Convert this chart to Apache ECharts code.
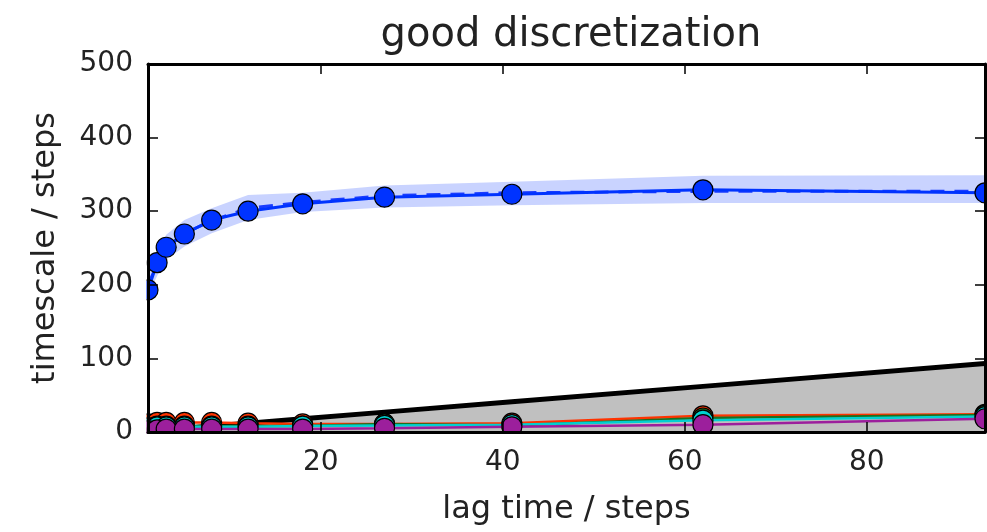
<!DOCTYPE html>
<html>
<head>
<meta charset="utf-8">
<script src="https://cdn.jsdelivr.net/npm/echarts@6/dist/echarts.min.js"></script>
<style>
  html, body { margin: 0; padding: 0; background: #fff; }
  #chart { width: 987px; height: 532px; }
</style>
</head>
<body>
<div id="chart"></div>
<script>
// lag times and implied timescales
var lags = [1, 2, 3, 5, 8, 12, 18, 27, 41, 62, 93];
var ts1 = [193, 230, 251, 269, 288, 300, 310, 319, 323, 329, 325];
var ts1Mean = [200, 228, 250, 270, 287, 304, 312, 321, 325, 327, 327];
var ts1Lower = [185, 212, 234, 252, 270, 288, 299, 305, 308, 311, 311];
var ts1Upper = [215, 243, 268, 288, 304, 322, 325, 335, 340, 348, 349];
var ts2 = [11, 13, 13, 13, 13, 12, 11, 11, 12, 22, 24];
var ts3 = [6, 8, 8, 8, 8, 8, 8, 11, 9, 19, 23];
var ts4 = [5, 7, 7, 7, 7, 7, 8, 9, 10, 16, 21];
var ts5 = [2, 3, 4, 4, 4, 4, 4, 5, 7, 10, 18];
var yTicks = [0, 100, 200, 300, 400, 500];

var FONT = "DejaVu Sans";

function pairs(ys) {
  return lags.map(function (x, i) { return [x, ys[i]]; });
}

function bandItem(params, api) {
  var pts = [];
  for (var i = 0; i < lags.length; i++) pts.push(api.coord([lags[i], ts1Upper[i]]));
  for (var j = lags.length - 1; j >= 0; j--) pts.push(api.coord([lags[j], ts1Lower[j]]));
  return {
    type: "polygon",
    shape: { points: pts },
    style: { fill: "rgba(40,80,255,0.25)" }
  };
}

function proc(name, ys, color, z, width) {
  return {
    name: name,
    type: "line",
    data: pairs(ys),
    symbol: "circle",
    symbolSize: 20,
    z: z,
    lineStyle: { color: color, width: width },
    itemStyle: { color: color, borderColor: "#000", borderWidth: 1.2 }
  };
}

var chart = echarts.init(document.getElementById("chart"), null, { renderer: "canvas" });

var spine = { show: true, onZero: false, lineStyle: { color: "#000", width: 3 } };
var tick = { show: true, inside: true, length: 10, lineStyle: { color: "#000", width: 1.5 } };

// grid frame: left 148, right 985, top 64, bottom 432
var option = {
  backgroundColor: "#fff",
  animation: false,
  title: {
    text: "good discretization",
    left: 566,
    top: 11,
    textAlign: "center",
    textStyle: { fontFamily: FONT, fontSize: 40, fontWeight: "normal", color: "#222" }
  },
  grid: { left: 148, right: 2, top: 64, bottom: 100, outerBoundsMode: "none", containLabel: false },
  // white masks so markers are cut at the frame like the original
  graphic: [
    { type: "rect", z: 40, silent: true, shape: { x: 0, y: 0, width: 146.5, height: 532 }, style: { fill: "#fff" } },
    { type: "rect", z: 40, silent: true, shape: { x: 0, y: 433.5, width: 987, height: 100 }, style: { fill: "#fff" } }
  ],
  xAxis: [
    {
      type: "value",
      min: 1,
      max: 93,
      splitNumber: 5,
      position: "bottom",
      z: 50,
      axisLine: spine,
      axisTick: tick,
      splitLine: { show: false },
      axisLabel: {
        showMinLabel: false,
        showMaxLabel: false,
        margin: 17,
        color: "#222",
        fontFamily: FONT,
        fontSize: 28
      },
      name: "lag time / steps",
      nameLocation: "middle",
      nameGap: 62,
      nameTextStyle: { fontFamily: FONT, fontSize: 32, color: "#222" }
    },
    {
      type: "value",
      min: 1,
      max: 93,
      splitNumber: 5,
      position: "top",
      z: 50,
      axisLine: spine,
      axisTick: tick,
      splitLine: { show: false },
      axisLabel: { show: false }
    }
  ],
  yAxis: [
    {
      type: "value",
      min: yTicks[0],
      max: yTicks[yTicks.length - 1],
      interval: 100,
      position: "left",
      z: 50,
      axisLine: spine,
      axisTick: tick,
      splitLine: { show: false },
      axisLabel: { margin: 15, color: "#222", fontFamily: FONT, fontSize: 28 },
      name: "timescale / steps",
      nameLocation: "middle",
      nameGap: 86,
      nameTextStyle: { fontFamily: FONT, fontSize: 32, color: "#222" }
    },
    {
      type: "value",
      min: yTicks[0],
      max: yTicks[yTicks.length - 1],
      interval: 100,
      position: "right",
      z: 50,
      axisLine: spine,
      axisTick: tick,
      splitLine: { show: false },
      axisLabel: { show: false }
    }
  ],
  series: [
    {
      name: "lag",
      type: "line",
      data: pairs(lags),
      symbol: "none",
      z: 1,
      lineStyle: { color: "#000", width: 5 },
      areaStyle: { color: "#c0c0c0", opacity: 1 }
    },
    {
      name: "band",
      type: "custom",
      renderItem: bandItem,
      data: [0],
      z: 2,
      silent: true
    },
    {
      name: "mean 1",
      type: "line",
      data: pairs(ts1Mean),
      symbol: "none",
      z: 3,
      lineStyle: { color: "#1a3cff", width: 3, type: [14, 10] }
    },
    proc("process 1", ts1, "#0033ff", 4, 3),
    proc("process 2", ts2, "#ff3300", 5, 2.5),
    proc("process 3", ts3, "#1e6e1e", 6, 2.5),
    proc("process 4", ts4, "#00d0d0", 7, 2.5),
    proc("process 5", ts5, "#9c1f9c", 8, 2.5)
  ]
};

chart.setOption(option);
</script>
</body>
</html>
